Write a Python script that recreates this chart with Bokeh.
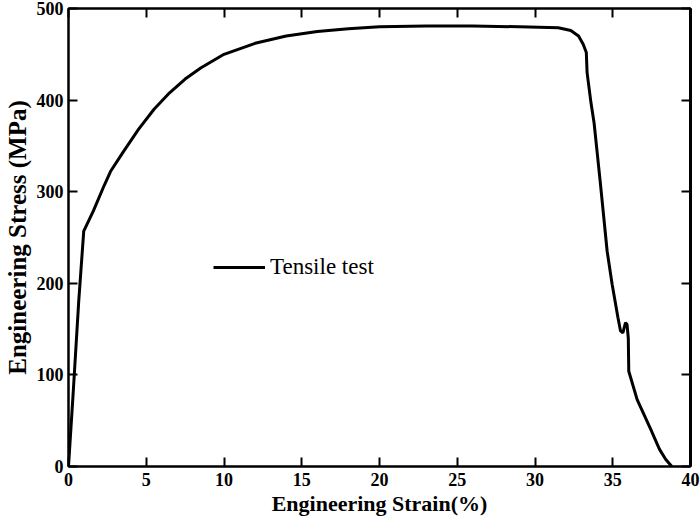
from bokeh.plotting import figure
from bokeh.models import Range1d, LinearAxis, FixedTicker, Legend, LegendItem
from bokeh.embed import file_html
from bokeh.resources import INLINE

strain = [0, 0.3, 0.66, 0.98, 1.6, 2.3, 2.7, 3.5, 4.5, 5.5, 6.5, 7.5, 8.5, 10, 12, 14, 16, 18, 20,
          23, 26, 29, 31.5, 32.3, 32.8, 33.1, 33.3, 33.35, 33.6, 33.8, 34.2, 34.64, 34.96, 35.33,
          35.5, 35.65, 35.82, 35.92, 36.0, 36.03, 36.57, 37.43, 38.0, 38.4, 38.8]
stress = [0, 80, 181, 257, 279, 307, 322, 343, 368, 390, 408, 423, 435, 450, 462, 470, 475, 478, 480,
          481, 481, 480, 479, 476, 470, 461, 452, 430, 397, 375, 310, 235, 199, 163,
          148, 146, 157, 155, 140, 104, 73, 41, 19, 8, 0]
x_ticks = [0, 5, 10, 15, 20, 25, 30, 35, 40]
y_ticks = [0, 100, 200, 300, 400, 500]

FONT = "Liberation Serif"

p = figure(width=700, height=518, x_range=Range1d(0, 40), y_range=Range1d(0, 500),
           output_backend="svg", toolbar_location=None,
           min_border_left=68, min_border_right=10, min_border_top=8, min_border_bottom=50)
p.grid.visible = False
p.outline_line_color = "black"
p.outline_line_width = 2

r = p.line(strain, stress, line_color="black", line_width=3)

def style(ax, labels=True):
    ax.axis_line_color = "black"
    ax.axis_line_width = 2
    ax.major_tick_in = 9
    ax.major_tick_out = 0
    ax.minor_tick_line_color = None
    ax.major_tick_line_width = 2
    ax.major_label_text_font = FONT
    ax.major_label_text_font_style = "bold"
    ax.major_label_text_font_size = "18px"
    ax.major_label_text_color = "black"
    if not labels:
        ax.major_label_text_font_size = "1px"
        ax.major_label_text_color = None
        ax.major_label_standoff = 0

p.xaxis.ticker = FixedTicker(ticks=x_ticks)
p.yaxis.ticker = FixedTicker(ticks=y_ticks)
style(p.xaxis[0])
style(p.yaxis[0])
p.xaxis.major_label_standoff = 6
p.yaxis.major_label_standoff = 5
p.xaxis.axis_label = "Engineering Strain(%)"
p.yaxis.axis_label = "Engineering Stress (MPa)"
for ax in (p.xaxis[0], p.yaxis[0]):
    ax.axis_label_text_font = FONT
    ax.axis_label_text_font_style = "bold"
    ax.axis_label_text_color = "black"
p.xaxis.axis_label_text_font_size = "22px"
p.yaxis.axis_label_text_font_size = "25px"
p.xaxis.axis_label_standoff = 2
p.yaxis.axis_label_standoff = 3

top = LinearAxis(ticker=FixedTicker(ticks=x_ticks))
style(top, labels=False)
p.add_layout(top, "above")
right = LinearAxis(ticker=FixedTicker(ticks=y_ticks))
style(right, labels=False)
right.axis_line_width = 3
p.add_layout(right, "right")

legend = Legend(items=[LegendItem(label="Tensile test", renderers=[r])], location=(145, 186),
                label_text_font=FONT, label_text_font_size="23px", label_text_color="black",
                glyph_width=52, glyph_height=24, label_height=24, padding=0, margin=0,
                border_line_color=None, background_fill_alpha=0, label_standoff=5)
p.add_layout(legend, "center")

open("out.html", "w").write(file_html(p, INLINE))
